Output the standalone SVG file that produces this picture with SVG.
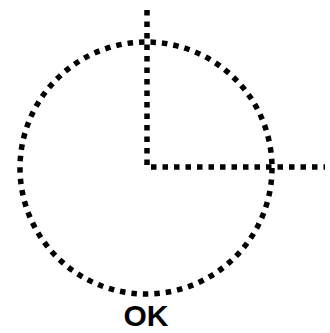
<svg xmlns="http://www.w3.org/2000/svg" width="330" height="333" viewBox="0 0 330 333">
<style>
.d{fill:none;stroke:#000;stroke-width:5.5;stroke-dasharray:5.5 6}
.t{font-family:"Liberation Sans",Arial,sans-serif;font-weight:bold;font-size:30px;fill:#000;text-anchor:middle}
</style>
<rect width="330" height="333" fill="#fff"/>
<g id="circle"><circle class="d" cx="146" cy="168" r="126"/></g>
<g id="connectors">
<path class="d" d="M147 10 V167 H325"/>
</g>
<g id="label"><text class="t" x="146" y="326">OK</text></g>
</svg>
